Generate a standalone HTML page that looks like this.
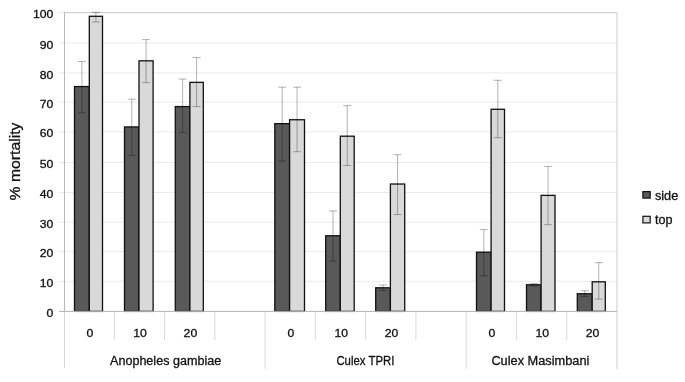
<!DOCTYPE html><html><head><meta charset="utf-8"><style>
html,body{margin:0;padding:0;background:#fff;width:685px;height:382px;overflow:hidden}
svg{display:block;will-change:transform}text{font-family:"Liberation Sans",sans-serif;fill:#111;stroke:#111;stroke-width:0.3px}
</style></head><body>
<svg width="685" height="382" viewBox="0 0 685 382">
<rect width="685" height="382" fill="#fff"/>
<line x1="59" y1="281.30" x2="617.00" y2="281.30" stroke="#ebebeb" stroke-width="1"/>
<line x1="59" y1="251.50" x2="617.00" y2="251.50" stroke="#ebebeb" stroke-width="1"/>
<line x1="59" y1="222.20" x2="617.00" y2="222.20" stroke="#ebebeb" stroke-width="1"/>
<line x1="59" y1="192.50" x2="617.00" y2="192.50" stroke="#ebebeb" stroke-width="1"/>
<line x1="59" y1="162.50" x2="617.00" y2="162.50" stroke="#ebebeb" stroke-width="1"/>
<line x1="59" y1="131.80" x2="617.00" y2="131.80" stroke="#ebebeb" stroke-width="1"/>
<line x1="59" y1="102.10" x2="617.00" y2="102.10" stroke="#ebebeb" stroke-width="1"/>
<line x1="59" y1="72.90" x2="617.00" y2="72.90" stroke="#ebebeb" stroke-width="1"/>
<line x1="59" y1="42.90" x2="617.00" y2="42.90" stroke="#ebebeb" stroke-width="1"/>
<line x1="59" y1="12.60" x2="617.00" y2="12.60" stroke="#ebebeb" stroke-width="1"/>
<line x1="64.50" y1="12.6" x2="617.00" y2="12.6" stroke="#c8c8c8" stroke-width="1"/>
<line x1="617.00" y1="12.40" x2="617.00" y2="369.00" stroke="#d6d6d6" stroke-width="1.2"/>
<line x1="114.27" y1="311.40" x2="114.27" y2="340.00" stroke="#d9d9d9" stroke-width="1"/>
<line x1="164.55" y1="311.40" x2="164.55" y2="340.00" stroke="#d9d9d9" stroke-width="1"/>
<line x1="214.82" y1="311.40" x2="214.82" y2="340.00" stroke="#d9d9d9" stroke-width="1"/>
<line x1="265.09" y1="311.40" x2="265.09" y2="369.00" stroke="#d9d9d9" stroke-width="1"/>
<line x1="315.36" y1="311.40" x2="315.36" y2="340.00" stroke="#d9d9d9" stroke-width="1"/>
<line x1="365.64" y1="311.40" x2="365.64" y2="340.00" stroke="#d9d9d9" stroke-width="1"/>
<line x1="415.91" y1="311.40" x2="415.91" y2="340.00" stroke="#d9d9d9" stroke-width="1"/>
<line x1="466.18" y1="311.40" x2="466.18" y2="369.00" stroke="#d9d9d9" stroke-width="1"/>
<line x1="516.45" y1="311.40" x2="516.45" y2="340.00" stroke="#d9d9d9" stroke-width="1"/>
<line x1="566.73" y1="311.40" x2="566.73" y2="340.00" stroke="#d9d9d9" stroke-width="1"/>
<rect x="74.50" y="86.55" width="14.80" height="224.85" fill="#595959" stroke="#111" stroke-width="1.3"/>
<rect x="89.30" y="16.29" width="13.20" height="295.11" fill="#d9d9d9" stroke="#111" stroke-width="1.3"/>
<rect x="124.50" y="126.92" width="14.50" height="184.48" fill="#595959" stroke="#111" stroke-width="1.3"/>
<rect x="139.00" y="60.84" width="14.10" height="250.56" fill="#d9d9d9" stroke="#111" stroke-width="1.3"/>
<rect x="175.30" y="106.58" width="14.60" height="204.82" fill="#595959" stroke="#111" stroke-width="1.3"/>
<rect x="189.90" y="82.37" width="13.40" height="229.03" fill="#d9d9d9" stroke="#111" stroke-width="1.3"/>
<rect x="274.80" y="123.63" width="14.80" height="187.77" fill="#595959" stroke="#111" stroke-width="1.3"/>
<rect x="289.60" y="119.74" width="14.90" height="191.66" fill="#d9d9d9" stroke="#111" stroke-width="1.3"/>
<rect x="325.70" y="235.75" width="14.60" height="75.65" fill="#595959" stroke="#111" stroke-width="1.3"/>
<rect x="340.30" y="136.19" width="13.90" height="175.21" fill="#d9d9d9" stroke="#111" stroke-width="1.3"/>
<rect x="375.70" y="287.78" width="14.70" height="23.62" fill="#595959" stroke="#111" stroke-width="1.3"/>
<rect x="390.40" y="184.03" width="14.30" height="127.37" fill="#d9d9d9" stroke="#111" stroke-width="1.3"/>
<rect x="476.50" y="252.20" width="14.60" height="59.20" fill="#595959" stroke="#111" stroke-width="1.3"/>
<rect x="491.10" y="109.28" width="13.40" height="202.12" fill="#d9d9d9" stroke="#111" stroke-width="1.3"/>
<rect x="526.50" y="284.79" width="14.60" height="26.61" fill="#595959" stroke="#111" stroke-width="1.3"/>
<rect x="541.10" y="195.39" width="13.90" height="116.01" fill="#d9d9d9" stroke="#111" stroke-width="1.3"/>
<rect x="577.30" y="293.76" width="14.90" height="17.64" fill="#595959" stroke="#111" stroke-width="1.3"/>
<rect x="592.20" y="281.80" width="13.10" height="29.60" fill="#d9d9d9" stroke="#111" stroke-width="1.3"/>
<path d="M81.90 61.44V112.86M77.90 61.44H85.90M77.90 112.86H85.90" stroke="rgba(0,0,0,0.3)" stroke-width="1" fill="none"/>
<path d="M95.90 12.40V21.97M91.90 12.40H99.90M91.90 21.97H99.90" stroke="rgba(0,0,0,0.3)" stroke-width="1" fill="none"/>
<path d="M131.75 99.11V155.32M127.75 99.11H135.75M127.75 155.32H135.75" stroke="rgba(0,0,0,0.3)" stroke-width="1" fill="none"/>
<path d="M146.05 39.61V82.66M142.05 39.61H150.05M142.05 82.66H150.05" stroke="rgba(0,0,0,0.3)" stroke-width="1" fill="none"/>
<path d="M182.60 79.08V132.60M178.60 79.08H186.60M178.60 132.60H186.60" stroke="rgba(0,0,0,0.3)" stroke-width="1" fill="none"/>
<path d="M196.60 57.55V106.58M192.60 57.55H200.60M192.60 106.58H200.60" stroke="rgba(0,0,0,0.3)" stroke-width="1" fill="none"/>
<path d="M282.20 87.15V161.00M278.20 87.15H286.20M278.20 161.00H286.20" stroke="rgba(0,0,0,0.3)" stroke-width="1" fill="none"/>
<path d="M297.05 87.15V151.73M293.05 87.15H301.05M293.05 151.73H301.05" stroke="rgba(0,0,0,0.3)" stroke-width="1" fill="none"/>
<path d="M333.00 210.94V261.17M329.00 210.94H337.00M329.00 261.17H337.00" stroke="rgba(0,0,0,0.3)" stroke-width="1" fill="none"/>
<path d="M347.25 105.69V165.49M343.25 105.69H351.25M343.25 165.49H351.25" stroke="rgba(0,0,0,0.3)" stroke-width="1" fill="none"/>
<path d="M383.05 285.09V290.47M379.05 285.09H387.05M379.05 290.47H387.05" stroke="rgba(0,0,0,0.3)" stroke-width="1" fill="none"/>
<path d="M397.55 154.72V214.52M393.55 154.72H401.55M393.55 214.52H401.55" stroke="rgba(0,0,0,0.3)" stroke-width="1" fill="none"/>
<path d="M483.80 229.47V275.82M479.80 229.47H487.80M479.80 275.82H487.80" stroke="rgba(0,0,0,0.3)" stroke-width="1" fill="none"/>
<path d="M497.80 80.27V137.68M493.80 80.27H501.80M493.80 137.68H501.80" stroke="rgba(0,0,0,0.3)" stroke-width="1" fill="none"/>
<path d="M533.80 283.59V285.98M529.80 283.59H537.80M529.80 285.98H537.80" stroke="rgba(0,0,0,0.3)" stroke-width="1" fill="none"/>
<path d="M548.05 166.38V224.69M544.05 166.38H552.05M544.05 224.69H552.05" stroke="rgba(0,0,0,0.3)" stroke-width="1" fill="none"/>
<path d="M584.75 290.77V296.45M580.75 290.77H588.75M580.75 296.45H588.75" stroke="rgba(0,0,0,0.3)" stroke-width="1" fill="none"/>
<path d="M598.75 262.66V299.14M594.75 262.66H602.75M594.75 299.14H602.75" stroke="rgba(0,0,0,0.3)" stroke-width="1" fill="none"/>
<line x1="64.50" y1="311.40" x2="64.50" y2="368" stroke="#d6d6d6" stroke-width="1"/>
<line x1="64.50" y1="12.10" x2="64.50" y2="311.40" stroke="#b8b8b8" stroke-width="1"/>
<line x1="59" y1="311.40" x2="617.00" y2="311.40" stroke="#b3b3b3" stroke-width="1"/>
<text x="53.4" y="316.80" font-size="11.7" text-anchor="end" textLength="6.80" lengthAdjust="spacingAndGlyphs">0</text>
<text x="53.4" y="286.90" font-size="11.7" text-anchor="end" textLength="13.60" lengthAdjust="spacingAndGlyphs">10</text>
<text x="53.4" y="257.10" font-size="11.7" text-anchor="end" textLength="13.60" lengthAdjust="spacingAndGlyphs">20</text>
<text x="53.4" y="227.80" font-size="11.7" text-anchor="end" textLength="13.60" lengthAdjust="spacingAndGlyphs">30</text>
<text x="53.4" y="198.10" font-size="11.7" text-anchor="end" textLength="13.60" lengthAdjust="spacingAndGlyphs">40</text>
<text x="53.4" y="168.10" font-size="11.7" text-anchor="end" textLength="13.60" lengthAdjust="spacingAndGlyphs">50</text>
<text x="53.4" y="137.40" font-size="11.7" text-anchor="end" textLength="13.60" lengthAdjust="spacingAndGlyphs">60</text>
<text x="53.4" y="107.70" font-size="11.7" text-anchor="end" textLength="13.60" lengthAdjust="spacingAndGlyphs">70</text>
<text x="53.4" y="78.50" font-size="11.7" text-anchor="end" textLength="13.60" lengthAdjust="spacingAndGlyphs">80</text>
<text x="53.4" y="48.50" font-size="11.7" text-anchor="end" textLength="13.60" lengthAdjust="spacingAndGlyphs">90</text>
<text x="53.4" y="18.20" font-size="11.7" text-anchor="end" textLength="20.40" lengthAdjust="spacingAndGlyphs">100</text>
<text x="89.84" y="336.9" font-size="11.8" text-anchor="middle" textLength="6.80" lengthAdjust="spacingAndGlyphs">0</text>
<text x="140.11" y="336.9" font-size="11.8" text-anchor="middle" textLength="13.60" lengthAdjust="spacingAndGlyphs">10</text>
<text x="190.38" y="336.9" font-size="11.8" text-anchor="middle" textLength="13.60" lengthAdjust="spacingAndGlyphs">20</text>
<text x="290.93" y="336.9" font-size="11.8" text-anchor="middle" textLength="6.80" lengthAdjust="spacingAndGlyphs">0</text>
<text x="341.20" y="336.9" font-size="11.8" text-anchor="middle" textLength="13.60" lengthAdjust="spacingAndGlyphs">10</text>
<text x="391.47" y="336.9" font-size="11.8" text-anchor="middle" textLength="13.60" lengthAdjust="spacingAndGlyphs">20</text>
<text x="492.02" y="336.9" font-size="11.8" text-anchor="middle" textLength="6.80" lengthAdjust="spacingAndGlyphs">0</text>
<text x="542.29" y="336.9" font-size="11.8" text-anchor="middle" textLength="13.60" lengthAdjust="spacingAndGlyphs">10</text>
<text x="592.56" y="336.9" font-size="11.8" text-anchor="middle" textLength="13.60" lengthAdjust="spacingAndGlyphs">20</text>
<text x="110.0" y="364.8" font-size="12.5" textLength="111.2" lengthAdjust="spacingAndGlyphs">Anopheles gambiae</text>
<text x="336.4" y="364.8" font-size="12.5" textLength="58.0" lengthAdjust="spacingAndGlyphs">Culex TPRI</text>
<text x="491.4" y="364.8" font-size="12.5" textLength="98.0" lengthAdjust="spacingAndGlyphs">Culex Masimbani</text>
<text transform="translate(20.1 200.5) rotate(-90)" font-size="14.8" textLength="78" lengthAdjust="spacingAndGlyphs">% mortality</text>
<rect x="642.9" y="191.6" width="7.3" height="6.5" fill="#595959" stroke="#111" stroke-width="1.2"/>
<rect x="642.9" y="216.3" width="7.3" height="6.6" fill="#d9d9d9" stroke="#111" stroke-width="1.2"/>
<text x="654.9" y="199.8" font-size="12.6" textLength="23.4" lengthAdjust="spacingAndGlyphs">side</text>
<text x="654.9" y="224.4" font-size="12.6">top</text>
</svg></body></html>
